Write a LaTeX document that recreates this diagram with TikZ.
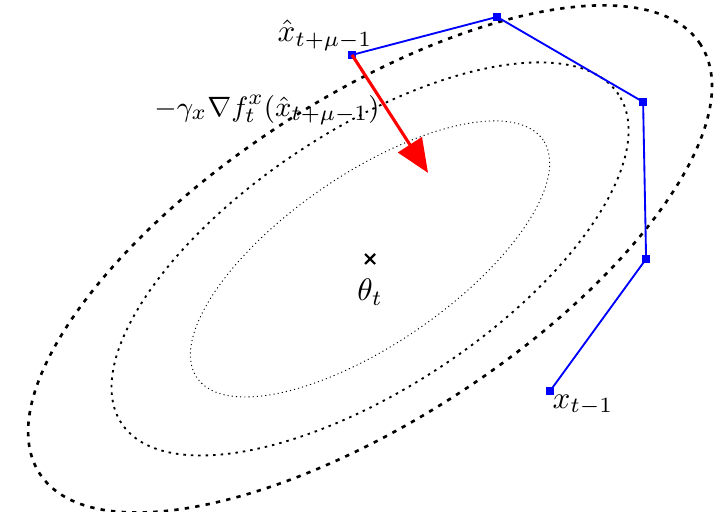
\documentclass[tikz,border=0pt]{standalone}
\usepackage{amsmath,amssymb}
\usetikzlibrary{arrows.meta,positioning,calc}

\begin{document}
\begin{tikzpicture}[scale=1.13,
    outerlevel/.style={line width=0.85pt, dash pattern=on 1.4pt off 2pt},
    midlevel/.style={line width=0.6pt, dash pattern=on 0.8pt off 1.6pt},
    innerlevel/.style={line width=0.3pt, dash pattern=on 0.35pt off 1pt},
    iterpath/.style={blue, line width=0.6pt},
    itermark/.style={rectangle, fill=blue, minimum size=2.3pt, inner sep=0pt},
    gradarrow/.style={red, line width=1pt, -{Triangle[length=10.8pt, width=9pt]}}]
  \useasboundingbox (0,0) rectangle (7.15,5.12);
  % Level sets around the optimum
  \coordinate (opt) at (3.70,2.53);
  \draw[outerlevel, shift={(opt)}, rotate=33] (0,0) ellipse [x radius=3.94, y radius=1.61];
  \draw[midlevel, shift={(opt)}, rotate=33.5] (0,0) ellipse [x radius=2.98, y radius=1.29];
  \draw[innerlevel, shift={(opt)}, rotate=34.5] (0,0) ellipse [x radius=2.10, y radius=0.85];
  \draw[line width=0.7pt] ($(opt)+(-0.05,-0.05)$) -- ($(opt)+(0.05,0.05)$)
    ($(opt)+(-0.05,0.05)$) -- ($(opt)+(0.05,-0.05)$);
  \node[below=3pt of opt] (theta) {$\theta_t$};
  % Iterates
  \node[itermark] (p1) at (3.52,4.57) {};
  \node[itermark] (p2) at (4.97,4.95) {};
  \node[itermark] (p3) at (6.43,4.10) {};
  \node[itermark] (p4) at (6.46,2.53) {};
  \node[itermark] (p5) at (5.50,1.21) {};
  \draw[iterpath] (p5.center) -- (p4.center) -- (p3.center) -- (p2.center) -- (p1.center);
  \node (xhat) at (3.25,4.77) {$\hat{x}_{t+\mu-1}$};
  \node (xprev) at (5.83,1.07) {$x_{t-1}$};
  % Gradient step
  \coordinate (tip) at (4.28,3.39);
  \draw[gradarrow] (p1.center) -- (tip);
  \node[font=\fontsize{9.4}{11}\selectfont] (grad) at (2.67,4.02) {$-\gamma_x\nabla f_t^x(\hat{x}_{t+\mu-1})$};
\end{tikzpicture}
\end{document}
